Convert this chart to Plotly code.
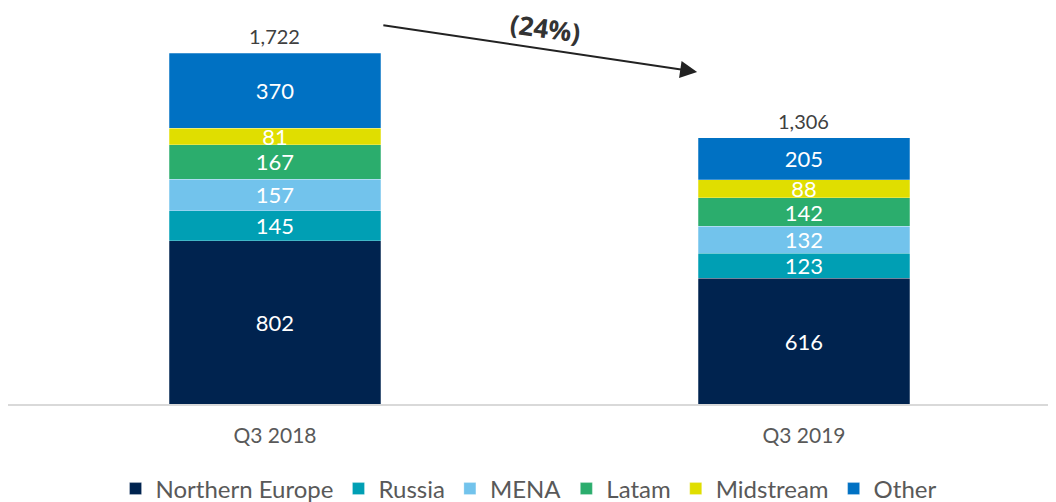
import plotly.graph_objects as go

categories = ["Q3 2018", "Q3 2019"]
northern_europe = [802, 616]
russia = [145, 123]
mena = [157, 132]
latam = [167, 142]
midstream = [81, 88]
other = [370, 205]
totals = [1722, 1306]
change_label = "(24%)"

series = [
    ("Northern Europe", northern_europe, "#00234F"),
    ("Russia", russia, "#009FB4"),
    ("MENA", mena, "#72C3EC"),
    ("Latam", latam, "#2BAD6D"),
    ("Midstream", midstream, "#E0DE00"),
    ("Other", other, "#0071C3"),
]

fig = go.Figure()
for name, vals, color in series:
    fig.add_trace(go.Bar(
        x=categories, y=vals, name=name,
        marker=dict(color=color, line=dict(color="rgba(255,255,255,0.5)", width=0.5)),
        width=0.4,
        text=[str(v) for v in vals],
        textposition="inside",
        insidetextanchor="middle",
        textangle=0,
        insidetextfont=dict(color="white", size=22, family="Lato"),
        hoverinfo="skip",
    ))

for cat, tot in zip(categories, totals):
    fig.add_annotation(
        x=cat, y=tot, xref="x", yref="y", text=f"{tot:,}", showarrow=False,
        yanchor="middle", yshift=17,
        font=dict(size=20, color="#404040", family="Lato"),
    )

fig.add_annotation(
    x=0.798, y=1629, ax=0.202, ay=1860,
    xref="x", yref="y", axref="x", ayref="y",
    showarrow=True, arrowhead=2, arrowsize=1.7, arrowwidth=2, arrowcolor="#222222",
    text="",
)
fig.add_annotation(
    x=0.512, y=1845, xref="x", yref="y",
    text="<b>" + change_label + "</b>", showarrow=False,
    textangle=8, font=dict(size=26, color="#333333", family="Open Sans"),
)

fig.update_layout(
    barmode="stack",
    width=1048, height=494,
    margin=dict(l=0, r=0, t=0, b=98, autoexpand=False),
    plot_bgcolor="white", paper_bgcolor="white",
    uniformtext=dict(minsize=22, mode="show"),
    showlegend=True,
    legend=dict(
        orientation="h", x=0.4967, xanchor="center", y=-0.2146, yanchor="middle",
        font=dict(size=24, color="#595959", family="Lato"),
        traceorder="normal", itemwidth=30,
    ),
    xaxis=dict(
        range=[-0.5047, 1.4764], showline=True, linecolor="#D9D9D9", linewidth=2,
        tickfont=dict(size=21, color="#595959", family="Lato"), ticks="",
        ticklabelstandoff=12,
        showgrid=False, zeroline=False,
    ),
    yaxis=dict(range=[0, 1943], visible=False, showgrid=False, zeroline=False),
)

fig.write_html("out.html")
